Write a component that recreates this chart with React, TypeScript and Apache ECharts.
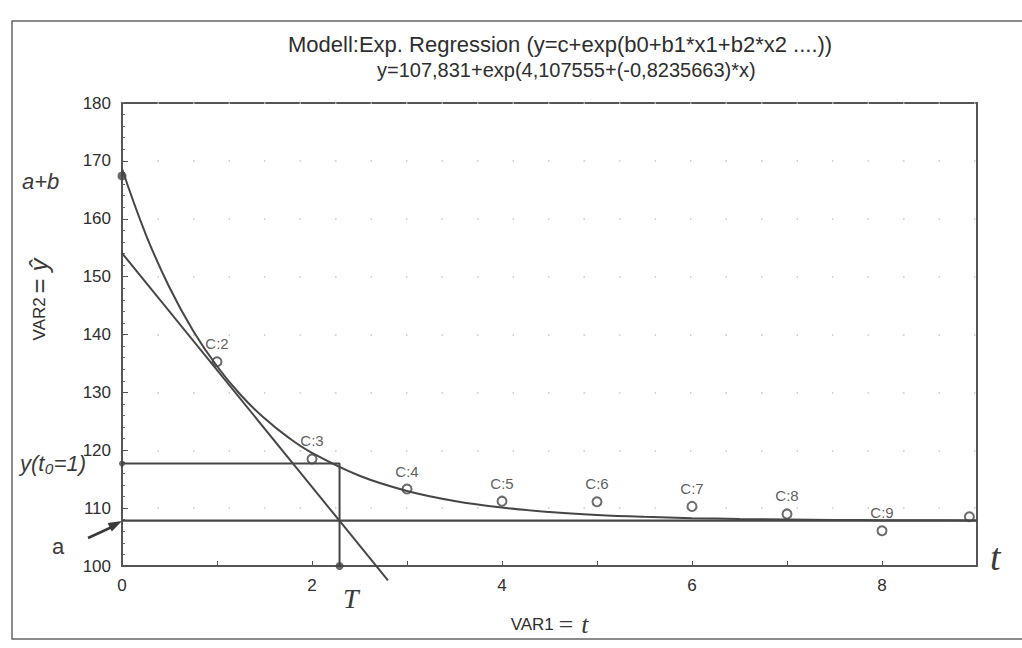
import React, { useEffect, useRef } from "react";
import * as echarts from "echarts";

// ---- data ----
const titleLine1 = "Modell:Exp. Regression (y=c+exp(b0+b1*x1+b2*x2 ....))";
const titleLine2 = "y=107,831+exp(4,107555+(-0,8235663)*x)";

// fitted curve (VAR1 -> VAR2)
const curveX = [0, 0.25, 0.5, 0.75, 1, 1.25, 1.5, 1.75, 2, 2.5, 3, 3.5, 4, 4.5, 5, 5.5, 6, 6.5, 7, 7.5, 8, 8.5, 9];
const curveY = [168.63, 157.32, 148.11, 140.61, 134.51, 129.55, 125.51, 122.22, 119.54, 115.59, 112.97, 111.24, 110.09, 109.33, 108.82, 108.49, 108.27, 108.12, 108.02, 107.96, 107.91, 107.89, 107.87];

// observed cases
const pointNames = ["C:2", "C:3", "C:4", "C:5", "C:6", "C:7", "C:8", "C:9", "C:10"];
const pointX = [1, 2, 3, 4, 5, 6, 7, 8, 8.92];
const pointY = [135.3, 118.5, 113.3, 111.2, 111.1, 110.3, 109.0, 106.1, 108.5];

// tangent line
const tangentX = [-0.165, 2.8];
const tangentY = [157.4, 97.5];

// construction lines
const asymptoteA = 107.83;
const aPlusB = 167.4;
const tCross = 2.29;
const yCross = 117.7;

const xMin = 0;
const xMax = 9;
const xInterval = 2;
const yMin = 100;
const yMax = 180;
const yInterval = 10;

const ink = "#464646";
const hand = "#3a3a3a";

export default function App() {
  const ref = useRef<HTMLDivElement>(null);
  useEffect(() => {
    if (!ref.current) return;
    const chart = echarts.init(ref.current, undefined, { renderer: "svg" });
    const lineBase = { type: "line", symbol: "none", silent: true, lineStyle: { color: ink, width: 2 } };
    chart.setOption({
      animation: false,
      backgroundColor: "#ffffff",
      title: [
        {
          text: titleLine1,
          left: 283,
          top: 28,
          textStyle: { fontFamily: "Liberation Sans, Arial", fontSize: 22, fontWeight: "normal", color: "#2e2e2e" },
        },
        {
          text: titleLine2,
          left: 372,
          top: 55,
          textStyle: { fontFamily: "Liberation Sans, Arial", fontSize: 20, fontWeight: "normal", color: "#2e2e2e" },
        },
      ],
      grid: {
        left: 122,
        right: 45,
        top: 103,
        bottom: 82,
        show: true,
        borderColor: "#555",
        borderWidth: 2,
      },
      xAxis: {
        type: "value",
        min: xMin,
        max: xMax,
        interval: xInterval,
        name: "{a|VAR1} {b|= t}",
        nameLocation: "middle",
        nameGap: 45,
        nameTextStyle: {
          rich: {
            a: { fontFamily: "Liberation Sans, Arial", fontSize: 17, color: "#2e2e2e" },
            b: { fontFamily: "Liberation Serif", fontStyle: "italic", fontSize: 26, color: hand },
          },
        },
        axisLine: { show: true, lineStyle: { color: "#555", width: 2 } },
        axisTick: { show: true, inside: true, length: 5, lineStyle: { color: "#555" } },
        minorTick: { show: true, splitNumber: 2, length: 5, lineStyle: { color: "#555" } },
        splitLine: { show: false },
        axisLabel: {
          showMaxLabel: false,
          margin: 11,
          fontFamily: "Liberation Sans, Arial",
          fontSize: 17,
          color: "#2e2e2e",
        },
      },
      yAxis: {
        type: "value",
        min: yMin,
        max: yMax,
        interval: yInterval,
        name: "{a|VAR2} {b|= ŷ}",
        nameLocation: "middle",
        nameGap: 70,
        nameRotate: 90,
        nameTextStyle: {
          padding: [0, 0, 0, 70],
          rich: {
            a: { fontFamily: "Liberation Sans, Arial", fontSize: 17, color: "#2e2e2e" },
            b: { fontFamily: "Liberation Sans", fontStyle: "italic", fontSize: 26, color: hand },
          },
        },
        axisLine: { show: true, lineStyle: { color: "#555", width: 2 } },
        axisTick: { show: true, inside: true, length: 6, lineStyle: { color: "#555" } },
        minorTick: { show: true, splitNumber: 5, length: 3, lineStyle: { color: "#666" } },
        splitLine: { show: true, lineStyle: { color: "#c8c8c8", width: 1.5, type: [1.5, 34] } },
        axisLabel: {
          margin: 11,
          fontFamily: "Liberation Sans, Arial",
          fontSize: 17,
          color: "#2e2e2e",
        },
      },
      series: [
        {
          ...lineBase,
          name: "Regression",
          smooth: 0.4,
          data: curveX.map((x, i) => [x, curveY[i]]),
        },
        {
          ...lineBase,
          name: "Tangente",
          clip: false,
          data: tangentX.map((x, i) => [x, tangentY[i]]),
        },
        {
          ...lineBase,
          name: "a",
          lineStyle: { color: ink, width: 2.2 },
          data: [
            [xMin, asymptoteA],
            [xMax, asymptoteA],
          ],
        },
        {
          ...lineBase,
          name: "y(T)",
          data: [
            [xMin, yCross],
            [tCross, yCross],
            [tCross, yMin],
          ],
        },
        {
          type: "scatter",
          name: "Fälle",
          symbol: "emptyCircle",
          symbolSize: 9,
          itemStyle: { color: ink, borderColor: ink, borderWidth: 1.6 },
          label: {
            show: true,
            position: "top",
            distance: 5,
            fontFamily: "Liberation Sans, Arial",
            fontSize: 15,
            color: "#333",
            formatter: (p: any) => p.name,
          },
          data: pointX.map((x, i) => ({
            name: pointNames[i],
            value: [x, pointY[i]],
            label: i === pointNames.length - 1 ? { show: false } : undefined,
          })),
        },
        {
          type: "scatter",
          name: "Marken",
          clip: false,
          symbol: "circle",
          itemStyle: { color: "#444" },
          data: [
            { value: [xMin, aPlusB], symbolSize: 9 },
            { value: [xMin, yCross], symbolSize: 6 },
            { value: [tCross, yMin], symbolSize: 8 },
          ],
        },
      ],
      graphic: [
        {
          type: "rect",
          silent: true,
          shape: { x: 12, y: 21, width: 1030, height: 618 },
          style: { fill: "none", stroke: "#666", lineWidth: 1.5 },
        },
        {
          type: "line",
          silent: true,
          shape: { x1: 88, y1: 538, x2: 112, y2: 527 },
          style: { stroke: hand, lineWidth: 2.5 },
        },
        {
          type: "polygon",
          silent: true,
          shape: { points: [[122, 521], [111.8, 531.5], [107.6, 522.9]] },
          style: { fill: hand },
        },
        {
          type: "text",
          silent: true,
          x: 22,
          y: 170,
          style: { text: "a+b", font: "italic 22px 'Liberation Sans'", fill: hand },
        },
        {
          type: "text",
          silent: true,
          x: 20,
          y: 452,
          style: { text: "y(t₀=1)", font: "italic 22px 'Liberation Sans'", fill: hand },
        },
        {
          type: "text",
          silent: true,
          x: 52,
          y: 535,
          style: { text: "a", font: "22px 'Liberation Sans'", fill: hand },
        },
        {
          type: "text",
          silent: true,
          x: 343,
          y: 584,
          style: { text: "T", font: "italic 28px 'Liberation Serif'", fill: hand },
        },
        {
          type: "text",
          silent: true,
          x: 990,
          y: 538,
          style: { text: "t", font: "italic 38px 'Liberation Serif'", fill: hand },
        },
      ],
    });
    return () => chart.dispose();
  }, []);
  return (
    <div
      ref={ref}
      style={{ position: "fixed", left: 0, top: 0, width: 1022, height: 648 }}
    />
  );
}
